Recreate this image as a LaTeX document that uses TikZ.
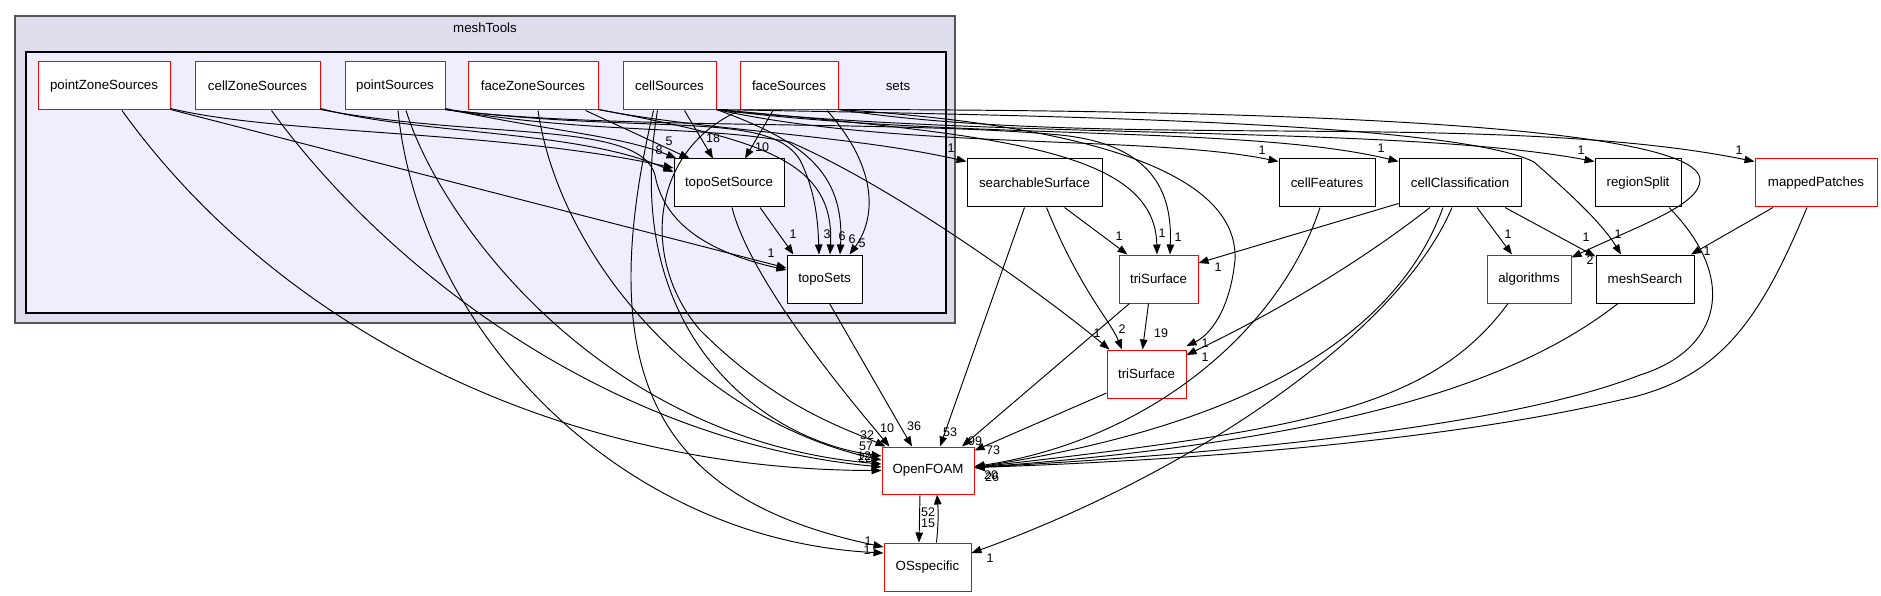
\documentclass[tikz,border=0pt]{standalone}
\usepackage{fontspec}
\setmainfont{Liberation Sans}
\usetikzlibrary{arrows.meta}
\newcommand{\nodefont}{\fontsize{13.3}{16}\selectfont}
\newcommand{\lblfont}{\fontsize{12.5}{15}\selectfont}
\definecolor{clOuter}{HTML}{DDDDEE}
\definecolor{clInner}{HTML}{EEEEFF}
\definecolor{clBorder}{HTML}{555555}
\definecolor{dirRed}{HTML}{FF0000}
\begin{document}
\begin{tikzpicture}[x=1pt,y=-1pt,
  dirbox/.style={draw=black, fill=white, line width=1pt, minimum height=48pt, inner sep=0pt, font=\nodefont},
  dirred/.style={dirbox, draw=dirRed},
  lbl/.style={font=\lblfont, inner sep=0pt},
  clbl/.style={font=\nodefont, inner sep=0pt},
  dep/.style={-{Triangle[length=10pt,width=7.5pt]}, line width=0.95pt}]
\useasboundingbox (0,0) rectangle (1881,596);
\fill[white] (0,0) rectangle (1881,596);
% clusters
\draw[fill=clOuter, draw=clBorder, line width=1.8pt] (15,16) rectangle (955,323);
\draw[fill=clInner, draw=black, line width=1.3pt] (26,52) rectangle (946,313);
\node[clbl] (meshToolsLbl) at (485,28) {meshTools};
\node[clbl] (setsLbl) at (898,86) {sets};
% nodes
\node[dirred, minimum width=132pt] (pz) at (104,86) {pointZoneSources};
\node[dirred, minimum width=125pt] (cz) at (257.5,86) {cellZoneSources};
\node[dirred, minimum width=100pt] (ps) at (395,86) {pointSources};
\node[dirred, minimum width=130pt] (fz) at (533,86) {faceZoneSources};
\node[dirred, minimum width=93pt] (cs) at (669.5,86) {cellSources};
\node[dirred, minimum width=98pt] (fs) at (789,86) {faceSources};
\node[dirbox, minimum width=110pt] (tss) at (729,183) {topoSetSource};
\node[dirbox, minimum width=75pt] (ts) at (824.5,279) {topoSets};
\node[dirbox, minimum width=135pt] (ss) at (1034.5,183) {searchableSurface};
\node[dirred, minimum width=79pt] (triA) at (1158.5,279) {triSurface};
\node[dirred, minimum width=79pt] (triB) at (1146.5,374) {triSurface};
\node[dirbox, minimum width=96pt] (cf) at (1327,183) {cellFeatures};
\node[dirbox, minimum width=122pt] (cc) at (1460,183) {cellClassification};
\node[dirbox, minimum width=86pt] (rs) at (1638,183) {regionSplit};
\node[dirred, minimum width=122pt] (mp) at (1816,183) {mappedPatches};
\node[dirred, minimum width=84pt] (alg) at (1529,279) {algorithms};
\node[dirbox, minimum width=98pt] (ms) at (1645,279) {meshSearch};
\node[dirred, minimum width=92pt, minimum height=47pt] (of) at (928,470.5) {OpenFOAM};
\node[dirred, minimum width=87pt] (os) at (927.5,567) {OSspecific};
% edges from pointZoneSources
\draw[dep] ([yshift=2pt]pz.south east) .. controls (280,135) and (500,130) .. ([yshift=15pt]tss.west);
\draw[dep] ([yshift=1pt]pz.south east) -- ([yshift=11pt]ts.west);
\draw[dep] ([xshift=18pt]pz.south) .. controls (280,330) and (560,470) .. (of.west);
% cellZoneSources
\draw[dep] ([yshift=2pt]cz.south east) .. controls (420,135) and (580,130) .. ([yshift=11pt]tss.west);
\draw[dep] ([yshift=1pt]cz.south east) .. controls (480,140) and (640,120) .. (655,175) .. controls (665,230) and (720,255) .. ([yshift=9pt]ts.west);
\draw[dep] ([xshift=14pt]cz.south) .. controls (380,260) and (600,440) .. ([yshift=3.5pt]of.west);
% pointSources
\draw[dep] ([yshift=2pt]ps.south east) .. controls (540,130) and (620,135) .. ([xshift=3pt]tss.north west);
\draw[dep] ([yshift=1pt]ps.south east) .. controls (650,135) and (770,110) .. (800,160) .. controls (815,190) and (818,220) .. ([xshift=-5.5pt]ts.north);
\draw[dep] ([yshift=1pt]ps.south east) .. controls (600,135) and (700,125) .. (790,142) .. controls (900,190) and (1050,300) .. ([xshift=3pt]triB.north west);
\draw[dep] ([yshift=1pt]ps.south east) .. controls (600,130) and (900,120) .. (1060,135) .. controls (1160,145) and (1172,200) .. ([xshift=11.5pt]triA.north);
\draw[dep] ([xshift=3pt]ps.south) .. controls (420,330) and (620,540) .. ([yshift=14pt]os.west);
\draw[dep] ([xshift=11pt]ps.south) .. controls (440,220) and (600,440) .. ([yshift=6.5pt]of.west);
% faceZoneSources
\draw[dep] ([xshift=-13pt]fz.south east) -- ([xshift=16pt]tss.north west);
\draw[dep] ([yshift=1pt]fz.south east) .. controls (760,140) and (835,160) .. ([xshift=5.5pt]ts.north);
\draw[dep] ([yshift=1pt]fz.south east) .. controls (700,130) and (850,135) .. ([yshift=-3pt]ss.north west);
\draw[dep] ([xshift=5pt]fz.south) .. controls (560,260) and (700,420) .. ([yshift=10.5pt]of.west);
% cellSources
\draw[dep] ([xshift=15pt]cs.south) -- ([xshift=-16pt]tss.north);
\draw[dep] ([yshift=1pt]cs.south east) .. controls (800,140) and (845,170) .. ([xshift=15.5pt]ts.north);
\draw[dep] ([xshift=-12pt]cs.south) .. controls (620,330) and (760,440) .. ([yshift=14.5pt]of.west);
\draw[dep] ([xshift=-16pt]cs.south) .. controls (590,380) and (660,500) .. ([yshift=20pt]os.west);
\draw[dep] ([yshift=1pt]cs.south east) .. controls (900,150) and (1150,135) .. ([yshift=-3pt]cf.north west);
\draw[dep] ([yshift=1pt]cs.south east) .. controls (950,140) and (1250,125) .. ([yshift=-3pt]cc.north west);
\draw[dep] ([yshift=1pt]cs.south east) .. controls (1000,140) and (1400,125) .. ([yshift=-3pt]rs.north west);
\draw[dep] ([yshift=1pt]cs.south east) .. controls (1000,115) and (1450,120) .. (1534,162) .. controls (1560,185) and (1600,220) .. ([xshift=-24pt]ms.north);
\draw[dep] ([yshift=1pt]cs.south east) .. controls (1000,135) and (1155,150) .. ([xshift=-1.5pt]triA.north);
% faceSources
\draw[dep] ([xshift=-16pt]fs.south) -- ([xshift=16pt]tss.north);
\draw[dep] ([xshift=38pt]fs.south) .. controls (880,170) and (875,220) .. ([xshift=25pt]ts.north);
\draw[dep] (fs.south west) .. controls (650,150) and (640,260) .. (700,330) .. controls (780,410) and (850,430) .. ([xshift=4pt]of.north west);
\draw[dep] ([yshift=1pt]fs.south east) .. controls (1100,150) and (1500,110) .. ([yshift=-3pt]mp.north west);
\draw[dep] ([yshift=1pt]fs.south east) .. controls (1200,110) and (1700,120) .. (1700,180) .. controls (1700,205) and (1640,225) .. ([yshift=-3pt]alg.north east);
\draw[dep] ([yshift=1pt]fs.south east) .. controls (1000,120) and (1240,150) .. (1235,260) .. controls (1230,310) and (1210,335) .. ([yshift=28pt]triB.east);
% topoSetSource / topoSets
\draw[dep] ([xshift=31pt]tss.south) -- ([xshift=-31pt]ts.north);
\draw[dep] ([xshift=3pt]tss.south) .. controls (750,280) and (850,400) .. ([xshift=8pt]of.north west);
\draw[dep] ([xshift=5pt]ts.south) -- ([xshift=-16pt]of.north);
% searchableSurface, triSurface
\draw[dep] ([xshift=-10pt]ss.south) -- ([xshift=12pt]of.north);
\draw[dep] ([xshift=12pt]ss.south) .. controls (1080,290) and (1110,320) .. ([xshift=-24.5pt]triB.north);
\draw[dep] ([xshift=30pt]ss.south) -- ([xshift=-31pt]triA.north);
\draw[dep] ([xshift=-10pt]triA.south) -- ([xshift=-4pt]triB.north);
\draw[dep] ([xshift=-29pt]triA.south) -- ([xshift=34pt]of.north);
\draw[dep] ([yshift=-19pt]triB.west) -- ([yshift=20pt]of.east);
% right-hand directories
\draw[dep] ([xshift=-7pt]cf.south) .. controls (1280,330) and (1150,440) .. ([yshift=4pt]of.east);
\draw[dep] ([yshift=4pt]cc.south west) -- ([yshift=16pt]triA.east);
\draw[dep] ([xshift=-30pt]cc.south) .. controls (1350,270) and (1260,320) .. ([yshift=19pt]triB.east);
\draw[dep] ([xshift=-17pt]cc.south) .. controls (1380,380) and (1150,440) .. ([yshift=3pt]of.east);
\draw[dep] ([xshift=-8pt]cc.south) .. controls (1400,330) and (1200,470) .. ([yshift=14pt]os.east);
\draw[dep] ([xshift=17pt]cc.south) -- ([xshift=-17pt]alg.north);
\draw[dep] ([xshift=45pt]cc.south) -- ([yshift=-2pt]ms.north west);
\draw[dep] ([xshift=-21pt]alg.south) .. controls (1430,410) and (1300,430) .. ([yshift=3pt]of.east);
\draw[dep] ([xshift=-27pt]ms.south) .. controls (1520,380) and (1350,440) .. ([yshift=3pt]of.east);
\draw[dep] ([xshift=31pt]rs.south) .. controls (1740,280) and (1720,350) .. (1640,375) .. controls (1500,430) and (1200,455) .. ([yshift=3pt]of.east);
\draw[dep] ([xshift=-9pt]mp.south) .. controls (1760,320) and (1720,380) .. (1620,400) .. controls (1450,440) and (1200,460) .. ([yshift=3pt]of.east);
\draw[dep] ([xshift=-43pt]mp.south) -- ([xshift=46pt]ms.north);
% OpenFOAM <-> OSspecific
\draw[dep] ([xshift=-8pt]of.south) -- ([xshift=-8.5pt]os.north);
\draw[dep] ([xshift=9pt]os.north) to[bend right=5] ([xshift=9pt]of.south);
% labels
\node[lbl] (l01) at (659,150) {8};
\node[lbl] (l04) at (669,141) {5};
\node[lbl] (l05) at (713,138) {18};
\node[lbl] (l06) at (762,147) {10};
\node[lbl] (l07) at (793,234) {1};
\node[lbl] (l08) at (827,234) {3};
\node[lbl] (l09) at (842,236) {6};
\node[lbl] (l10) at (852,239) {6};
\node[lbl] (l11) at (862,243) {5};
\node[lbl] (l12) at (771,253) {1};
\node[lbl] (l14) at (951,148) {1};
\node[lbl] (l15) at (1262,150) {1};
\node[lbl] (l16) at (1381,148) {1};
\node[lbl] (l17) at (1581,150) {1};
\node[lbl] (l18) at (1739,150) {1};
\node[lbl] (l19) at (1119,236) {1};
\node[lbl] (l20) at (1162,233) {1};
\node[lbl] (l21) at (1178,237) {1};
\node[lbl] (l22) at (1218,267) {1};
\node[lbl] (l23) at (1097,333) {1};
\node[lbl] (l24) at (1122,329) {2};
\node[lbl] (l25) at (1161,333) {19};
\node[lbl] (l26) at (1205,343) {1};
\node[lbl] (l27) at (1205,357) {1};
\node[lbl] (l28) at (1508,234) {1};
\node[lbl] (l29) at (1586,237) {1};
\node[lbl] (l30) at (1618,234) {1};
\node[lbl] (l31) at (1590,260) {2};
\node[lbl] (l32) at (1707,251) {1};
\node[lbl] (l33) at (887,428) {10};
\node[lbl] (l34) at (914,426) {36};
\node[lbl] (l35) at (950,432) {53};
\node[lbl] (l36) at (975,441) {99};
\node[lbl] (l37) at (993,450) {73};
\node[lbl] (l38) at (867,435) {32};
\node[lbl] (l39) at (866,446) {57};
\node[lbl] (l40) at (864,456) {12};
\node[lbl] (l41) at (865,458) {22};
\node[lbl] (l44) at (991,475) {20};
\node[lbl] (l45) at (992,477) {26};
\node[lbl] (l50) at (868,541) {1};
\node[lbl] (l51) at (867,550) {1};
\node[lbl] (l52) at (990,558) {1};
\node[lbl] (l53) at (928,512) {52};
\node[lbl] (l54) at (928,523) {15};
\end{tikzpicture}
\end{document}
